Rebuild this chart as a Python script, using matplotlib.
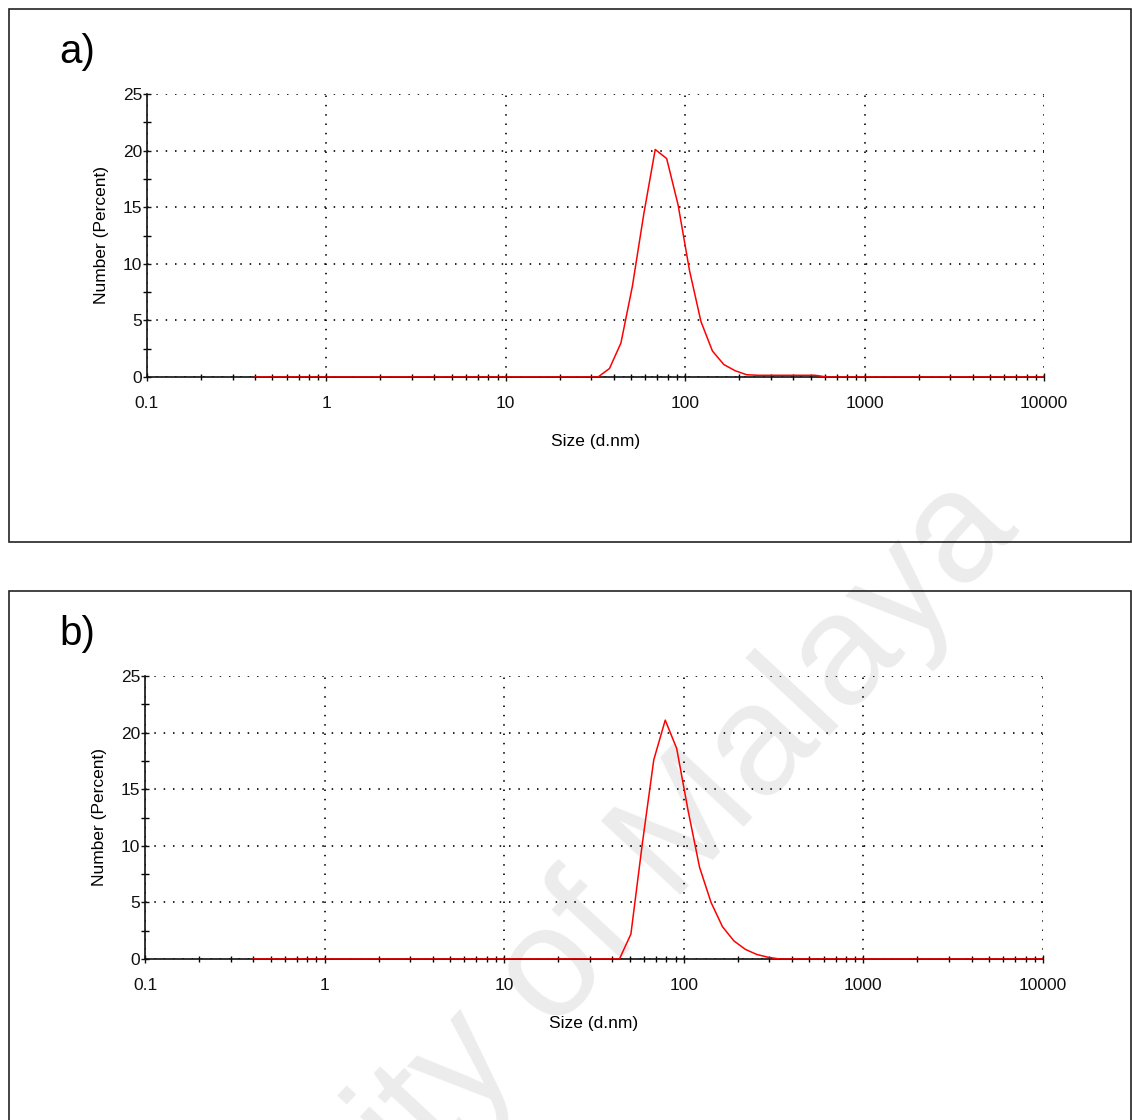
import matplotlib
matplotlib.use("Agg")
import matplotlib.pyplot as plt
from matplotlib.patches import Rectangle
from matplotlib.ticker import FixedLocator, LogLocator, MultipleLocator, NullFormatter

plt.rcParams['font.family'] = ['Liberation Sans', 'DejaVu Sans']

# size classes (d.nm) and number distribution (%) for each sample
size_a = [0.4, 32.67, 37.84, 43.82, 50.75, 58.77, 68.06, 78.82, 91.28, 105.7,
          122.4, 141.8, 164.2, 190.1, 220.2, 255.0, 295.3, 342.0, 396.1,
          458.7, 531.2, 615.1, 10000]
number_a = [0, 0, 0.75, 3.0, 8.0, 14.4, 20.1, 19.3, 15.2, 9.4,
            4.9, 2.3, 1.1, 0.55, 0.2, 0.15, 0.15, 0.15, 0.15,
            0.15, 0.15, 0, 0]

size_b = [0.4, 43.82, 50.75, 58.77, 68.06, 78.82, 91.28, 105.7, 122.4,
          141.8, 164.2, 190.1, 220.2, 255.0, 295.3, 342.0, 10000]
number_b = [0, 0, 2.2, 10.2, 17.6, 21.1, 18.6, 13.1, 8.1,
            5.0, 2.85, 1.6, 0.85, 0.4, 0.15, 0, 0]

x_ticks = [0.1, 1, 10, 100, 1000, 10000]
x_tick_labels = ['0.1', '1', '10', '100', '1000', '10000']
panel_labels = ['a)', 'b)']

W, H = 1132, 1120
DPI = 100


def px_box(left, top, right, bottom):
    # pixel box (top-left origin) -> figure fraction rect
    return [left / W, 1 - bottom / H, (right - left) / W, (bottom - top) / H]


def size_plot(ax, sizes, values):
    ax.plot(sizes, values, color='#ff0000', linewidth=1.1, zorder=3)
    ax.set_xscale('log')
    ax.set_xlim(0.1, 10000)
    ax.set_ylim(0, 25)
    ax.set_facecolor('none')

    ax.xaxis.set_major_locator(FixedLocator(x_ticks))
    ax.set_xticklabels(x_tick_labels)
    ax.xaxis.set_minor_locator(LogLocator(base=10, subs=range(2, 10)))
    ax.xaxis.set_minor_formatter(NullFormatter())
    ax.yaxis.set_major_locator(MultipleLocator(5))
    ax.yaxis.set_minor_locator(MultipleLocator(2.5))

    ax.tick_params(axis='x', which='major', direction='inout', length=6,
                   width=1.0, pad=10.5, labelsize=12.5, colors='#111111')
    ax.tick_params(axis='x', which='minor', direction='inout', length=4,
                   width=1.0)
    ax.tick_params(axis='y', which='major', direction='inout', length=6,
                   width=1.0, pad=0.5, labelsize=12.5, colors='#111111')
    ax.tick_params(axis='y', which='minor', direction='inout', length=6,
                   width=1.0)

    for side in ['top', 'right']:
        ax.spines[side].set_visible(False)
    for side in ['left', 'bottom']:
        ax.spines[side].set_linewidth(1.2)
        ax.spines[side].set_color('#111111')
        ax.spines[side].set_zorder(2.5)

    ax.grid(True, which='major', color='black', linewidth=1.2,
            linestyle=(0, (0.9, 4.7)))
    ax.set_xlabel('Size (d.nm)', fontsize=12.5, labelpad=17)
    ax.set_ylabel('Number (Percent)', fontsize=12.5, labelpad=10)


def main():
    fig = plt.figure(figsize=(W / DPI, H / DPI), dpi=DPI)

    # watermark
    fig.text(1020 / W, 1 - 530 / H, 'University of Malaya', fontsize=114,
             color='#ececec', rotation=47, rotation_mode='anchor',
             ha='right', va='baseline', zorder=-5)

    # panel frames
    for top, bottom in [(9, 542), (591, 1180)]:
        fig.patches.append(Rectangle(
            (9 / W, 1 - bottom / H), (1131 - 9) / W, (bottom - top) / H,
            transform=fig.transFigure, fill=False, edgecolor='#222222',
            linewidth=1.2, zorder=-1))

    ax_a = fig.add_axes(px_box(147, 94, 1044, 377))
    ax_b = fig.add_axes(px_box(145, 676, 1043, 959))
    size_plot(ax_a, size_a, number_a)
    size_plot(ax_b, size_b, number_b)

    fig.text(0.0525, 1 - 63 / H, panel_labels[0], fontsize=29, va='baseline')
    fig.text(0.0525, 1 - 645 / H, panel_labels[1], fontsize=29, va='baseline')

    fig.savefig('out.png', dpi=DPI)


if __name__ == "__main__":
    main()
